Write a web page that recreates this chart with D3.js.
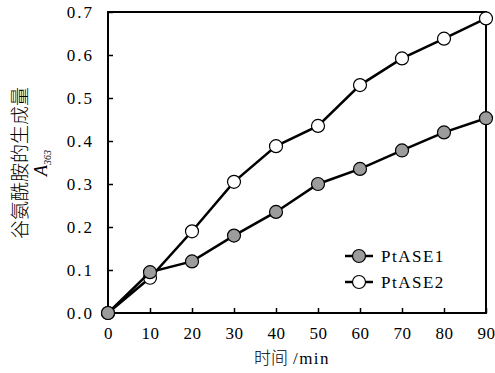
<!DOCTYPE html>
<html>
<head>
<meta charset="utf-8">
<script src="https://cdn.jsdelivr.net/npm/d3@7"></script>
<style>
  body { margin: 0; background: #fff; }
  svg { display: block; }
</style>
</head>
<body>
<div id="chart"></div>
<script>
// data
const times = [0, 10, 20, 30, 40, 50, 60, 70, 80, 90];
const ptase1 = [0, 0.095, 0.12, 0.18, 0.235, 0.30, 0.335, 0.378, 0.42, 0.453];
const ptase2 = [0, 0.082, 0.19, 0.305, 0.388, 0.435, 0.53, 0.592, 0.638, 0.685];
const xTicks = [0, 10, 20, 30, 40, 50, 60, 70, 80, 90];
const yTicks = [0, 0.1, 0.2, 0.3, 0.4, 0.5, 0.6, 0.7];
const seriesNames = ['PtASE1', 'PtASE2'];

const width = 495, height = 373;
const margin = { top: 12, right: 9, bottom: 60, left: 108 };

const svg = d3.select('#chart').append('svg').attr('width', width).attr('height', height);

const x = d3.scaleLinear().domain([0, 90]).range([margin.left, width - margin.right]);
const y = d3.scaleLinear().domain([0, 0.7]).range([height - margin.bottom, margin.top]);

const numFont = '"Liberation Serif", "DejaVu Serif", serif';
const cjkFont = '"Noto Sans CJK SC", sans-serif';

// axes with inward ticks
const xAxis = d3.axisBottom(x).tickValues(xTicks).tickSizeInner(-5).tickSizeOuter(0).tickPadding(14)
  .tickFormat(d => d);
const yAxis = d3.axisLeft(y).tickValues(yTicks).tickSizeInner(-5).tickSizeOuter(0).tickPadding(14)
  .tickFormat(d3.format('.1f'));

const gx = svg.append('g').attr('transform', `translate(0,${height - margin.bottom})`).call(xAxis);
const gy = svg.append('g').attr('transform', `translate(${margin.left},0)`).call(yAxis);
[gx, gy].forEach(g => {
  g.select('.domain').remove();
  g.selectAll('line').attr('stroke', '#000').attr('stroke-width', 1.5);
  g.selectAll('text').attr('fill', '#000').style('font-family', numFont).style('font-size', '17px');
});
gy.selectAll('text').attr('dy', '0.35em').style('letter-spacing', '2px');
gx.selectAll('text').style('letter-spacing', '0.5px');

// frame
svg.append('rect')
  .attr('x', margin.left).attr('y', margin.top)
  .attr('width', width - margin.left - margin.right)
  .attr('height', height - margin.top - margin.bottom)
  .attr('fill', 'none').attr('stroke', '#000').attr('stroke-width', 2);

const line = d3.line().x((d, i) => x(times[i])).y(d => y(d));
const fills = ['#9c9c9c', '#fff'];

[ptase2, ptase1].forEach((vals, k) => {
  const idx = k === 0 ? 1 : 0;
  svg.append('path').datum(vals).attr('d', line)
    .attr('fill', 'none').attr('stroke', '#000').attr('stroke-width', 2.5);
  svg.selectAll(null).data(vals).enter().append('circle')
    .attr('cx', (d, i) => x(times[i])).attr('cy', d => y(d)).attr('r', 6.5)
    .attr('fill', fills[idx]).attr('stroke', '#000').attr('stroke-width', 1.2);
});

// legend
const legend = svg.append('g').attr('transform', 'translate(345,256)');
seriesNames.forEach((name, i) => {
  const g = legend.append('g').attr('transform', `translate(0,${i * 26})`);
  g.append('line').attr('x1', 0).attr('x2', 28).attr('stroke', '#000').attr('stroke-width', 2.5);
  g.append('circle').attr('cx', 14).attr('r', 6.5).attr('fill', fills[i])
    .attr('stroke', '#000').attr('stroke-width', 1.2);
  g.append('text').attr('x', 36).attr('dy', '0.35em').text(name)
    .style('font-family', numFont).style('font-size', '17px').style('letter-spacing', '1.5px');
});

// axis titles
const xt = svg.append('text').attr('x', 292).attr('y', 364)
  .attr('text-anchor', 'middle').style('font-size', '17px');
xt.append('tspan').style('font-family', cjkFont).style('font-weight', 300).text('时间');
xt.append('tspan').attr('dx', 5).style('font-family', numFont).style('letter-spacing', '1.5px').text('/min');

svg.append('text').attr('transform', 'translate(27,163) rotate(-90)')
  .attr('text-anchor', 'middle').style('font-family', cjkFont).style('font-weight', 300)
  .style('font-size', '19px').text('谷氨酰胺的生成量');

const aLabel = svg.append('text').attr('transform', 'translate(47,163) rotate(-90)')
  .attr('text-anchor', 'middle').style('font-family', numFont).style('font-size', '18px');
aLabel.append('tspan').style('font-style', 'italic').text('A');
aLabel.append('tspan').attr('dy', 4).style('font-size', '10px').style('font-style', 'italic').text('363');
</script>
</body>
</html>
